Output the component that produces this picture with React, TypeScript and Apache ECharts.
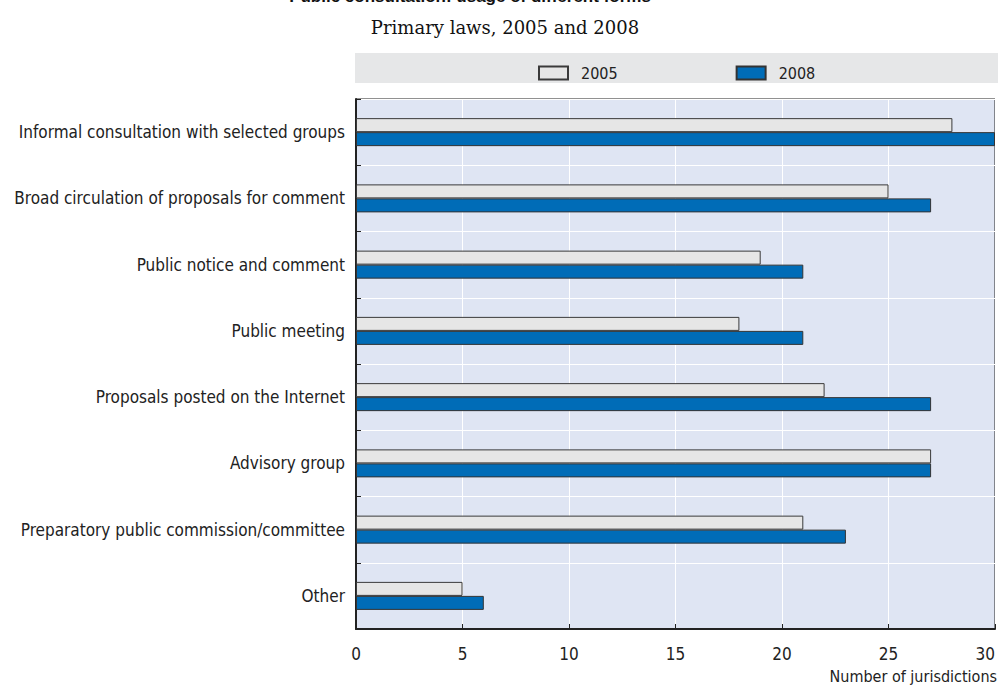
import React, { useEffect, useRef } from "react";
import * as echarts from "echarts";

const categories = [
  "Informal consultation with selected groups",
  "Broad circulation of proposals for comment",
  "Public notice and comment",
  "Public meeting",
  "Proposals posted on the Internet",
  "Advisory group",
  "Preparatory public commission/committee",
  "Other",
];
const values2005 = [28, 25, 19, 18, 22, 27, 21, 5];
const values2008 = [30, 27, 21, 21, 27, 27, 23, 6];
const seriesNames = ["2005", "2008"];

const TITLE = "Public consultation: usage of different forms";
const SUBTITLE = "Primary laws, 2005 and 2008";
const AXIS_NAME = "Number of jurisdictions";

const NARROW = "'Liberation Sans Narrow', 'DejaVu Sans Condensed', 'Arial Narrow', sans-serif";
const SERIF = "'DejaVu Serif', 'Liberation Serif', serif";

export default function App() {
  const ref = useRef<HTMLDivElement>(null);

  useEffect(() => {
    if (!ref.current) return;
    const chart = echarts.init(ref.current, undefined, { renderer: "svg" });
    chart.setOption({
      animation: false,
      backgroundColor: "#ffffff",
      textStyle: { fontFamily: NARROW },
      graphic: [
        {
          type: "text",
          style: {
            text: TITLE,
            x: 470,
            y: 5,
            align: "center",
            verticalAlign: "bottom",
            font: "bold 17px 'Liberation Sans', sans-serif",
            fill: "#111",
          },
        },
        {
          type: "text",
          style: {
            text: SUBTITLE,
            x: 505,
            y: 27,
            align: "center",
            verticalAlign: "middle",
            font: `18px ${SERIF}`,
            fill: "#111",
          },
        },
        {
          type: "rect",
          z: -1,
          shape: { x: 355, y: 53, width: 645, height: 30 },
          style: { fill: "#e6e7e8" },
        },
        {
          type: "text",
          style: {
            text: AXIS_NAME,
            x: 997,
            y: 676,
            align: "right",
            verticalAlign: "middle",
            font: `16px ${NARROW}`,
            fill: "#222",
          },
        },
      ],
      legend: {
        data: seriesNames,
        left: 533,
        top: 60,
        itemWidth: 29,
        itemHeight: 13,
        itemGap: 118,
        icon: "rect",
        textStyle: {
          fontSize: 16,
          color: "#222",
          fontFamily: NARROW,
          padding: [0, 0, 0, 8],
        },
      },
      grid: {
        left: 356,
        right: -2,
        top: 99,
        bottom: 57,
        show: true,
        backgroundColor: "#dfe5f3",
        borderColor: "#222",
        borderWidth: 1,
        containLabel: false,
      },
      xAxis: {
        type: "value",
        min: 0,
        max: 30,
        interval: 5,
        axisLine: { show: true, lineStyle: { color: "#222", width: 2 } },
        axisTick: { show: true, inside: true, length: 5, lineStyle: { color: "#222" } },
        splitLine: { show: true, lineStyle: { color: "#ffffff", width: 1 } },
        axisLabel: {
          fontSize: 17,
          color: "#222",
          margin: 16,
          fontFamily: NARROW,
          alignMaxLabel: "right",
        },
      },
      yAxis: {
        type: "category",
        inverse: true,
        data: categories,
        axisLine: { show: true, lineStyle: { color: "#222", width: 2 } },
        axisTick: { show: true, inside: true, length: 5, lineStyle: { color: "#222" } },
        splitLine: { show: true, lineStyle: { color: "#ffffff", width: 1 } },
        axisLabel: { fontSize: 17, color: "#222", margin: 11, fontFamily: NARROW },
      },
      series: [
        {
          name: seriesNames[0],
          type: "bar",
          data: values2005,
          barWidth: 14,
          barGap: "0%",
          itemStyle: { color: "#e6e6e6", borderColor: "#3a3a3a", borderWidth: 1 },
        },
        {
          name: seriesNames[1],
          type: "bar",
          data: values2008,
          barWidth: 14,
          barGap: "0%",
          itemStyle: { color: "#006cb7", borderColor: "#333333", borderWidth: 1 },
        },
      ],
    });
    return () => chart.dispose();
  }, []);

  return (
    <div
      ref={ref}
      style={{ position: "absolute", left: 0, top: 0, width: 998, height: 686 }}
    />
  );
}
